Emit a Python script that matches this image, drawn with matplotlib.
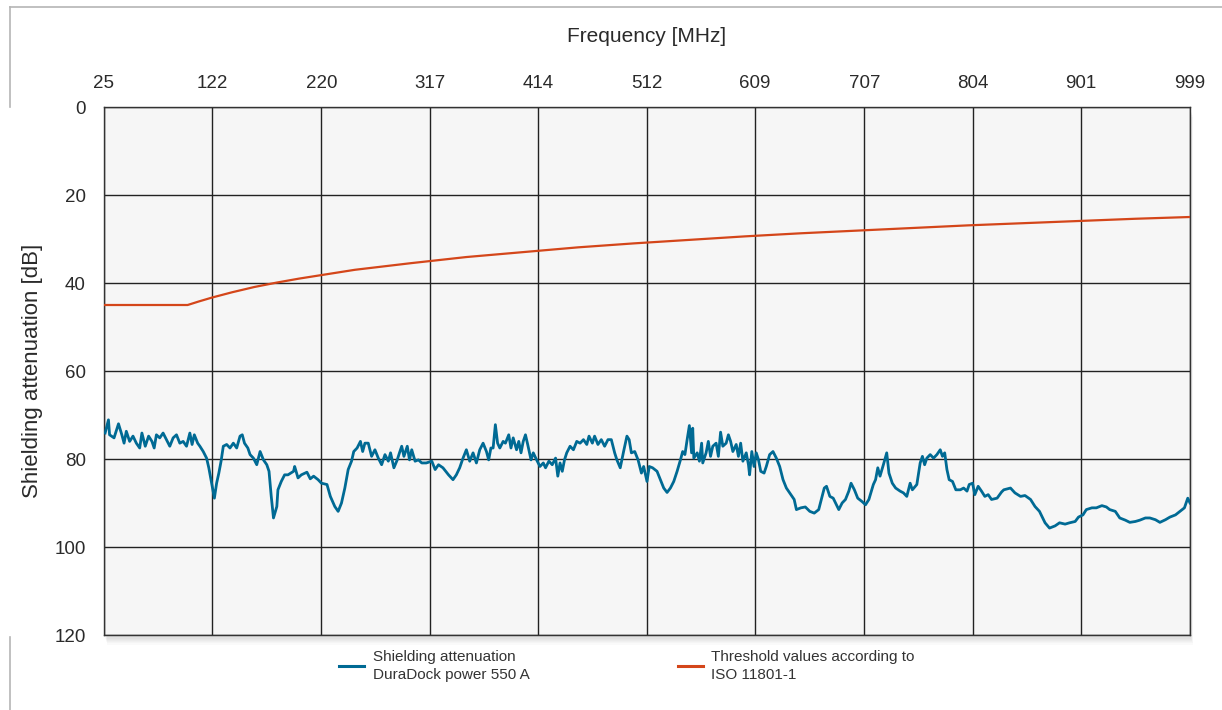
import matplotlib
matplotlib.use("Agg")
import matplotlib.pyplot as plt
from matplotlib.lines import Line2D
from matplotlib.patches import Rectangle

plt.rcParams['font.family'] = ['Liberation Sans', 'DejaVu Sans']

# frequency axis labels [MHz] and attenuation ticks [dB]
freq_ticks = [25, 122, 220, 317, 414, 512, 609, 707, 804, 901, 999]
db_ticks = [0, 20, 40, 60, 80, 100, 120]

# measured shielding attenuation, DuraDock power 550 A
meas_freq = [
    26, 29, 30, 34, 38, 41, 43, 45, 48, 51, 54, 57, 59, 62, 65, 68, 70, 72, 75, 78,
    81, 84, 87, 90, 93, 96, 99, 102, 104, 106, 109, 111, 114, 117, 119, 122, 124, 126, 128, 130,
    132, 135, 138, 141, 144, 147, 149, 151, 154, 156, 159, 162, 165, 168, 171, 173, 175, 177, 180, 181,
    184, 187,
    190, 195, 196, 199, 202, 207, 210, 213, 217, 220, 225, 228, 232, 235, 238, 241, 244, 247, 249, 252,
    255, 257, 259, 262, 265, 268, 271, 274, 277, 280, 282, 285, 288, 290, 292, 294, 297, 299, 301, 304,
    307, 310, 314, 319, 322, 325, 329, 334, 338, 341,
    344, 347, 350, 353, 356, 359, 362, 365, 368, 370, 372, 374, 376, 378, 380, 383, 385, 388, 390, 392,
    395, 397, 399, 401, 403, 405, 408, 410, 413, 416, 419, 421, 424, 427, 430, 432, 434, 436, 438, 440,
    443, 446, 449, 452, 455, 458, 460, 463, 465, 468, 471, 474, 477, 480, 483, 485, 488, 491, 494, 496,
    498, 501, 504, 507, 509,
    512, 514, 517, 521, 524, 527, 530, 533, 536, 539, 542, 544, 546, 548, 550, 552, 553, 554, 557, 559,
    561, 562, 565, 567, 569, 571, 574, 576, 578, 580, 583, 585, 587, 589, 592, 594, 596, 598, 601, 603,
    604, 606, 608, 610, 612, 614, 617, 619, 622, 625, 628, 631, 634, 637, 641, 644, 646, 650, 654, 658,
    662, 666, 669, 671,
    673, 676, 679, 684, 687, 690, 693, 695, 698, 701, 705, 708, 711, 715, 717, 719, 721, 724, 727, 729,
    732, 735, 739, 742, 745, 748, 750, 754, 757, 759, 761, 763, 766, 769, 772, 775, 777, 779, 781, 783,
    786, 789, 793, 796, 799, 801, 804, 806, 809, 812, 815, 818, 821, 826, 830,
    832, 838, 842, 847, 851, 856, 860, 864, 869, 873, 878, 882, 887, 891, 896, 899, 903, 906, 911, 915,
    920, 924, 927, 932, 936, 941, 945, 950, 954, 959, 963, 968, 972, 977, 981, 986, 990, 994, 997, 999,
]
meas_db = [
    74.1, 71.1, 74.5, 75.2, 72, 74.5, 76.4, 73.7, 76, 74.8, 76.4, 77.5, 74.1, 77.1, 74.8, 76, 77.5, 74.5, 75.2, 74.1,
    75.6, 77.1, 75.2, 74.5, 76.4, 76, 77.1, 74.1, 76.7, 74.5, 76.4, 77.1, 78.3, 79.8, 82, 86.2, 88.9, 85.5, 83.2, 80.5,
    77.1, 76.7, 77.5, 76.4, 77.5, 74.8, 74.5, 76.4, 77.5, 79, 79.8, 81.3, 78.3, 80.2, 81.3, 82.8, 88.5, 93.4, 90.8, 87,
    85.1, 83.6,
    83.6, 82.8, 81.7, 84.3, 83.6, 83, 84.5, 83.9, 84.7, 85.5, 85.8, 88.5, 90.8, 91.9, 90, 86.6, 82.4, 80.5, 78.3, 77.5,
    76, 78.3, 76.4, 76.4, 79.4, 77.9, 79.8, 81.3, 79, 80.5, 78.6, 82, 80.2, 78.6, 77.1, 79.4, 77.1, 80.2, 77.9, 80.5,
    80.2, 80.9, 80.9, 80.5, 82.4, 81.3, 82, 83.6, 84.7, 83.6,
    82, 79.8, 77.9, 80.5, 78.6, 80.9, 77.9, 76.4, 78.3, 80.2, 77.5, 77.5, 72.2, 76.4, 77.5, 76, 76.4, 74.5, 77.5, 75.2,
    77.9, 76, 78.6, 76, 74.5, 76.7, 80.2, 78.6, 80.2, 81.7, 80.9, 82, 80.5, 81.3, 79.8, 83.9, 80.9, 82.8, 80.2, 78.6,
    77.1, 77.9, 76, 76.4, 75.6, 76.7, 74.8, 76.4, 74.8, 76.7, 75.6, 77.1, 75.6, 75.6, 78.6, 80.2, 82, 78.3, 74.8, 75.6,
    78.6, 78.3, 80.2, 83.2, 81.7,
    85.1, 81.7, 82, 82.8, 84.7, 86.6, 87.6, 86.6, 85.1, 82.8, 80.2, 78.3, 79, 75.6, 72.4, 78.6, 73, 79.8, 78.6, 80.5,
    76.4, 80.9, 78.6, 76, 79.4, 77.1, 76.4, 79.4, 73.9, 77.1, 76.4, 74.5, 76, 78.3, 76.7, 79.4, 76.4, 80.5, 78.6, 81.3,
    83.6, 78.3, 81.7, 78.6, 80.2, 82.8, 83.2, 81.7, 79, 78.3, 79.8, 81.7, 84.7, 86.6, 88.1, 89.2, 91.5, 91.1, 90.9, 91.9,
    92.3, 91.5, 88.5, 86.6,
    86.2, 88.5, 88.9, 91.5, 90, 89.2, 87.3, 85.5, 87, 88.9, 89.7, 90.4, 89.2, 85.8, 84.7, 82, 83.9, 81.3, 78.6, 83.2,
    85.5, 86.6, 87.3, 87.7, 88.5, 85.5, 87, 85.8, 80.9, 79.4, 81.3, 79.8, 79, 79.8, 79, 77.9, 79.4, 78.6, 82.4, 84.7,
    85.1, 87, 87, 86.6, 87.3, 85.8, 85.5, 88.1, 86.2, 87.3, 88.5, 88.1, 89.2, 88.9, 87.5,
    87, 86.6, 87.7, 88.5, 88.3, 89.2, 90.8, 91.9, 94.5, 95.7, 95.2, 94.5, 94.8, 94.5, 94.2, 93.2, 92.7, 91.5, 91.1, 91.1,
    90.6, 90.9, 91.5, 91.9, 93.4, 93.9, 94.4, 94.2, 93.9, 93.4, 93.4, 93.8, 94.4, 93.8, 93.2, 92.7, 91.9, 91.1, 88.9, 90,
]

# ISO 11801-1 threshold values
limit_freq = [25, 100, 110, 122, 140, 160, 180, 200, 250, 300, 350, 400, 450,
              500, 550, 600, 650, 700, 750, 800, 850, 900, 950, 999]
limit_db = [45, 45, 44.2, 43.3, 42.1, 40.9, 39.9, 39.0, 37.0, 35.5, 34.1, 33.0, 31.9,
            31.0, 30.2, 29.4, 28.7, 28.1, 27.5, 26.9, 26.4, 25.9, 25.4, 25.0]

BLUE = '#006a94'
ORANGE = '#d4461a'
W, H = 1222, 710

fig = plt.figure(figsize=(W / 100, H / 100), dpi=100)
fig.patch.set_facecolor('white')
l, r, t, b = 104 / W, 1190 / W, 1 - 107 / H, 1 - 635 / H
ax = fig.add_axes([l, b, r - l, t - b])
ax.set_facecolor('#f6f6f6')

# soft drop shadow right and below the plot area
for k in range(1, 9):
    fig.patches.append(Rectangle((l + k * 0.4 / W, b - k * 1.2 / H), r - l, t - b,
                                 transform=fig.transFigure, color='k',
                                 alpha=0.018, zorder=-1, lw=0))

ax.plot(limit_freq, limit_db, color=ORANGE, lw=1.6, zorder=3)
ax.plot(meas_freq, meas_db, color=BLUE, lw=2.0, zorder=4)

ax.set_xlim(25, 999)
ax.set_ylim(120, 0)
ax.xaxis.tick_top()
ax.set_xticks(freq_ticks)
ax.set_xticklabels([str(v) for v in freq_ticks])
ax.set_yticks(db_ticks)
ax.tick_params(axis='both', length=0, labelsize=13.5, colors='#2a2a2a')
ax.tick_params(axis='x', pad=10.5)
ax.tick_params(axis='y', pad=13)
ax.grid(True, color='#222222', lw=1)
ax.set_axisbelow(True)
for s in ax.spines.values():
    s.set_color('#333333')
    s.set_linewidth(1)

fig.text((l + r) / 2, 1 - 36 / H, 'Frequency [MHz]', ha='center', va='center',
         fontsize=15, color='#2a2a2a')
fig.text(33 / W, (t + b) / 2, 'Shielding attenuation [dB]', ha='center', va='center',
         rotation=90, fontsize=16, color='#2a2a2a')

# legend
ly = 1 - 666 / H
fig.add_artist(Line2D([339 / W, 364 / W], [ly, ly], color=BLUE, lw=2.2,
                      transform=fig.transFigure))
fig.text(373 / W, ly, 'Shielding attenuation\nDuraDock power 550 A', ha='left',
         va='center', fontsize=11, color='#333333', linespacing=1.3)
fig.add_artist(Line2D([678 / W, 703 / W], [ly, ly], color=ORANGE, lw=2.2,
                      transform=fig.transFigure))
fig.text(711 / W, ly, 'Threshold values according to\nISO 11801-1', ha='left',
         va='center', fontsize=11, color='#333333', linespacing=1.3)

# outer frame pieces
fc = '#b5b5b5'
fig.add_artist(Line2D([10 / W, 1], [1 - 7 / H, 1 - 7 / H], color=fc, lw=1.2,
                      transform=fig.transFigure))
fig.add_artist(Line2D([10 / W, 10 / W], [1 - 7 / H, 1 - 107 / H], color=fc, lw=1.2,
                      transform=fig.transFigure))
fig.add_artist(Line2D([10 / W, 10 / W], [1 - 637 / H, 0], color=fc, lw=1.2,
                      transform=fig.transFigure))

fig.savefig('out.png', dpi=100)
